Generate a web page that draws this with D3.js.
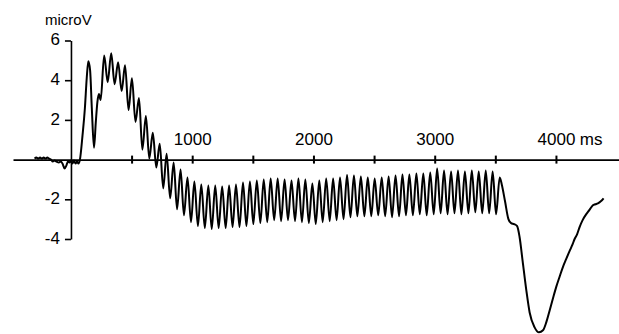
<!DOCTYPE html>
<html><head><meta charset="utf-8">
<script src="https://cdn.jsdelivr.net/npm/d3@7"></script>
<style>
body{margin:0;background:#fff}
svg{display:block}
text{font-family:"Liberation Sans",Arial,sans-serif;fill:#000}
</style>
</head><body>
<svg id="c" width="619" height="334"></svg>
<script>
// ---- data ----
const yTicks = [-4, -2, 2, 4, 6];
const yTickLabels = ["-4", "-2", "2", "4", "6"];
const xTicks = [500, 1000, 1500, 2000, 2500, 3000, 3500, 4000];
const xTickLabels = ["", "1000", "", "2000", "", "3000", "", "4000"];
const yUnit = "microV";
const xUnit = "ms";

// pre-stimulus baseline
const baseTimes  = [-300,-285,-270,-255,-240,-225,-210,-195,-180,-165,-150,-135,-120,-100,-85,-70,-52,-38,-25,-12,0,12,25,38,50,62,74];
const baseValues = [0.05,0.1,0.05,0.1,0.05,0.1,0.05,0.1,0.05,0.0,-0.1,-0.05,-0.1,-0.15,-0.1,-0.2,-0.45,-0.3,-0.1,-0.15,-0.05,-0.2,-0.05,-0.2,-0.1,-0.2,0.0];
// onset response
const onsetTimes  = [95,115,130,143,158,172,190,205,218,231,245];
const onsetValues = [1.2,2.6,4.1,4.95,4.5,2.6,0.6,1.9,2.9,3.3,3.0];
// steady-state oscillation (alternating peaks and troughs)
const ssTimes = [274,303,332,360,389,418,446,475,503,532,561,589,618,646,675,704,732,761,789,818,
  847,875,904,932,961,990,1018,1047,1075,1104,1133,1161,1190,1218,1247,1276,1304,1333,1361,1390,
  1419,1447,1476,1504,1533,1562,1590,1619,1647,1676,1705,1733,1762,1790,1819,1848,1876,1905,1933,1962,
  1991,2019,2048,2076,2105,2134,2162,2191,2219,2248,2277,2305,2334,2362,2391,2420,2448,2477,2505,2534,
  2563,2591,2620,2648,2677,2706,2734,2763,2791,2820,2849,2877,2906,2934,2963,2992,3020,3049,3077,3106,
  3135,3163,3192,3220,3249,3278,3306,3335,3363,3392,3421,3449,3478,3506];
const ssValues = [5.24,3.9,5.36,3.8,4.9,3.45,4.75,2.5,4.1,1.9,3.1,0.5,2.2,0.05,1.35,-0.4,0.8,-1.45,0.3,-1.95,
  -0.15,-2.5,-0.5,-2.8,-0.9,-3.15,-1.1,-3.35,-1.25,-3.45,-1.3,-3.5,-1.3,-3.45,-1.35,-3.45,-1.3,-3.4,-1.25,-3.4,
  -1.15,-3.35,-1.1,-3.25,-1.05,-3.2,-1.0,-3.15,-0.95,-3.05,-0.95,-3.1,-1.0,-3.05,-1.05,-3.1,-0.95,-3.15,-1.0,-3.2,
  -1.2,-3.25,-1.05,-3.15,-0.95,-3.1,-0.95,-3.05,-0.9,-3.0,-0.78,-2.9,-0.8,-2.85,-0.85,-2.85,-0.9,-2.85,-0.95,-2.8,
  -0.9,-2.85,-0.85,-2.9,-0.8,-2.85,-0.75,-2.8,-0.75,-2.8,-0.7,-2.75,-0.7,-2.8,-0.65,-2.75,-0.45,-2.7,-0.55,-2.75,
  -0.6,-2.7,-0.55,-2.75,-0.6,-2.7,-0.55,-2.65,-0.6,-2.7,-0.55,-2.7,-0.6,-2.75];
// offset response
const offTimes  = [3536,3555,3580,3608,3630,3655,3680,3700,3725,3756,3783,3824,3860,3893,3920,3948,3975,4003,4030,4058,4085,4113,4135,4154,4175,4195,4220,4250,4275,4305,4325,4346,4370,4393];
const offValues = [-0.9,-1.3,-2.1,-3.0,-3.2,-3.25,-3.35,-3.9,-5.1,-6.6,-7.7,-8.45,-8.7,-8.6,-8.2,-7.6,-7.0,-6.4,-5.9,-5.4,-5.0,-4.6,-4.3,-4.0,-3.75,-3.4,-3.05,-2.75,-2.55,-2.3,-2.25,-2.2,-2.1,-1.95];

const times = baseTimes.concat(onsetTimes, ssTimes, offTimes);
const values = baseValues.concat(onsetValues, ssValues, offValues);
const series = times.map((t, i) => ({t: t, v: values[i]}));

// ---- drawing ----
const svg = d3.select("#c");
const x = d3.scaleLinear().domain([-478, 4520]).range([13, 619]);
const y = d3.scaleLinear().domain([-4, 6]).range([239, 40.5]);

// y axis
const gy = svg.append("g")
  .attr("transform", `translate(${x(0)},0)`)
  .call(d3.axisLeft(y).tickValues(yTicks).tickSize(6).tickSizeOuter(0).tickPadding(5)
        .tickFormat((d, i) => yTickLabels[i]));
gy.attr("font-size", 17).attr("font-family", null);
gy.selectAll("path,line").attr("stroke", "#000").attr("stroke-width", 1.6);
gy.selectAll("text").attr("dy", "0.25em");

// x axis
const gx = svg.append("g")
  .attr("transform", `translate(0,${y(0)})`)
  .call(d3.axisTop(x).tickValues(xTicks).tickSizeInner(4).tickSizeOuter(0).tickPadding(11)
        .tickFormat((d, i) => xTickLabels[i]));
gx.attr("font-size", 17).attr("font-family", null);
gx.selectAll("path,line").attr("stroke", "#000").attr("stroke-width", 1.6);
gx.selectAll(".tick line").attr("y1", 4).attr("y2", -4).attr("stroke-width", 2);

// "ms" after the last label
const lastLabel = gx.selectAll(".tick text").filter((d) => d === 4000);
const w = lastLabel.node().getComputedTextLength();
svg.append("text")
  .attr("x", x(4000) + w / 2 + 5)
  .attr("y", y(0) - 15)
  .attr("font-size", 17)
  .text(xUnit);

// y unit
svg.append("text")
  .attr("x", 45).attr("y", 25)
  .attr("font-size", 15)
  .text(yUnit);

// waveform
const line = d3.line().x(d => x(d.t)).y(d => y(d.v)).curve(d3.curveMonotoneX);
svg.append("path")
  .datum(series)
  .attr("d", line)
  .attr("fill", "none")
  .attr("stroke", "#000")
  .attr("stroke-width", 2)
  .attr("stroke-linejoin", "round");
</script>
</body></html>
